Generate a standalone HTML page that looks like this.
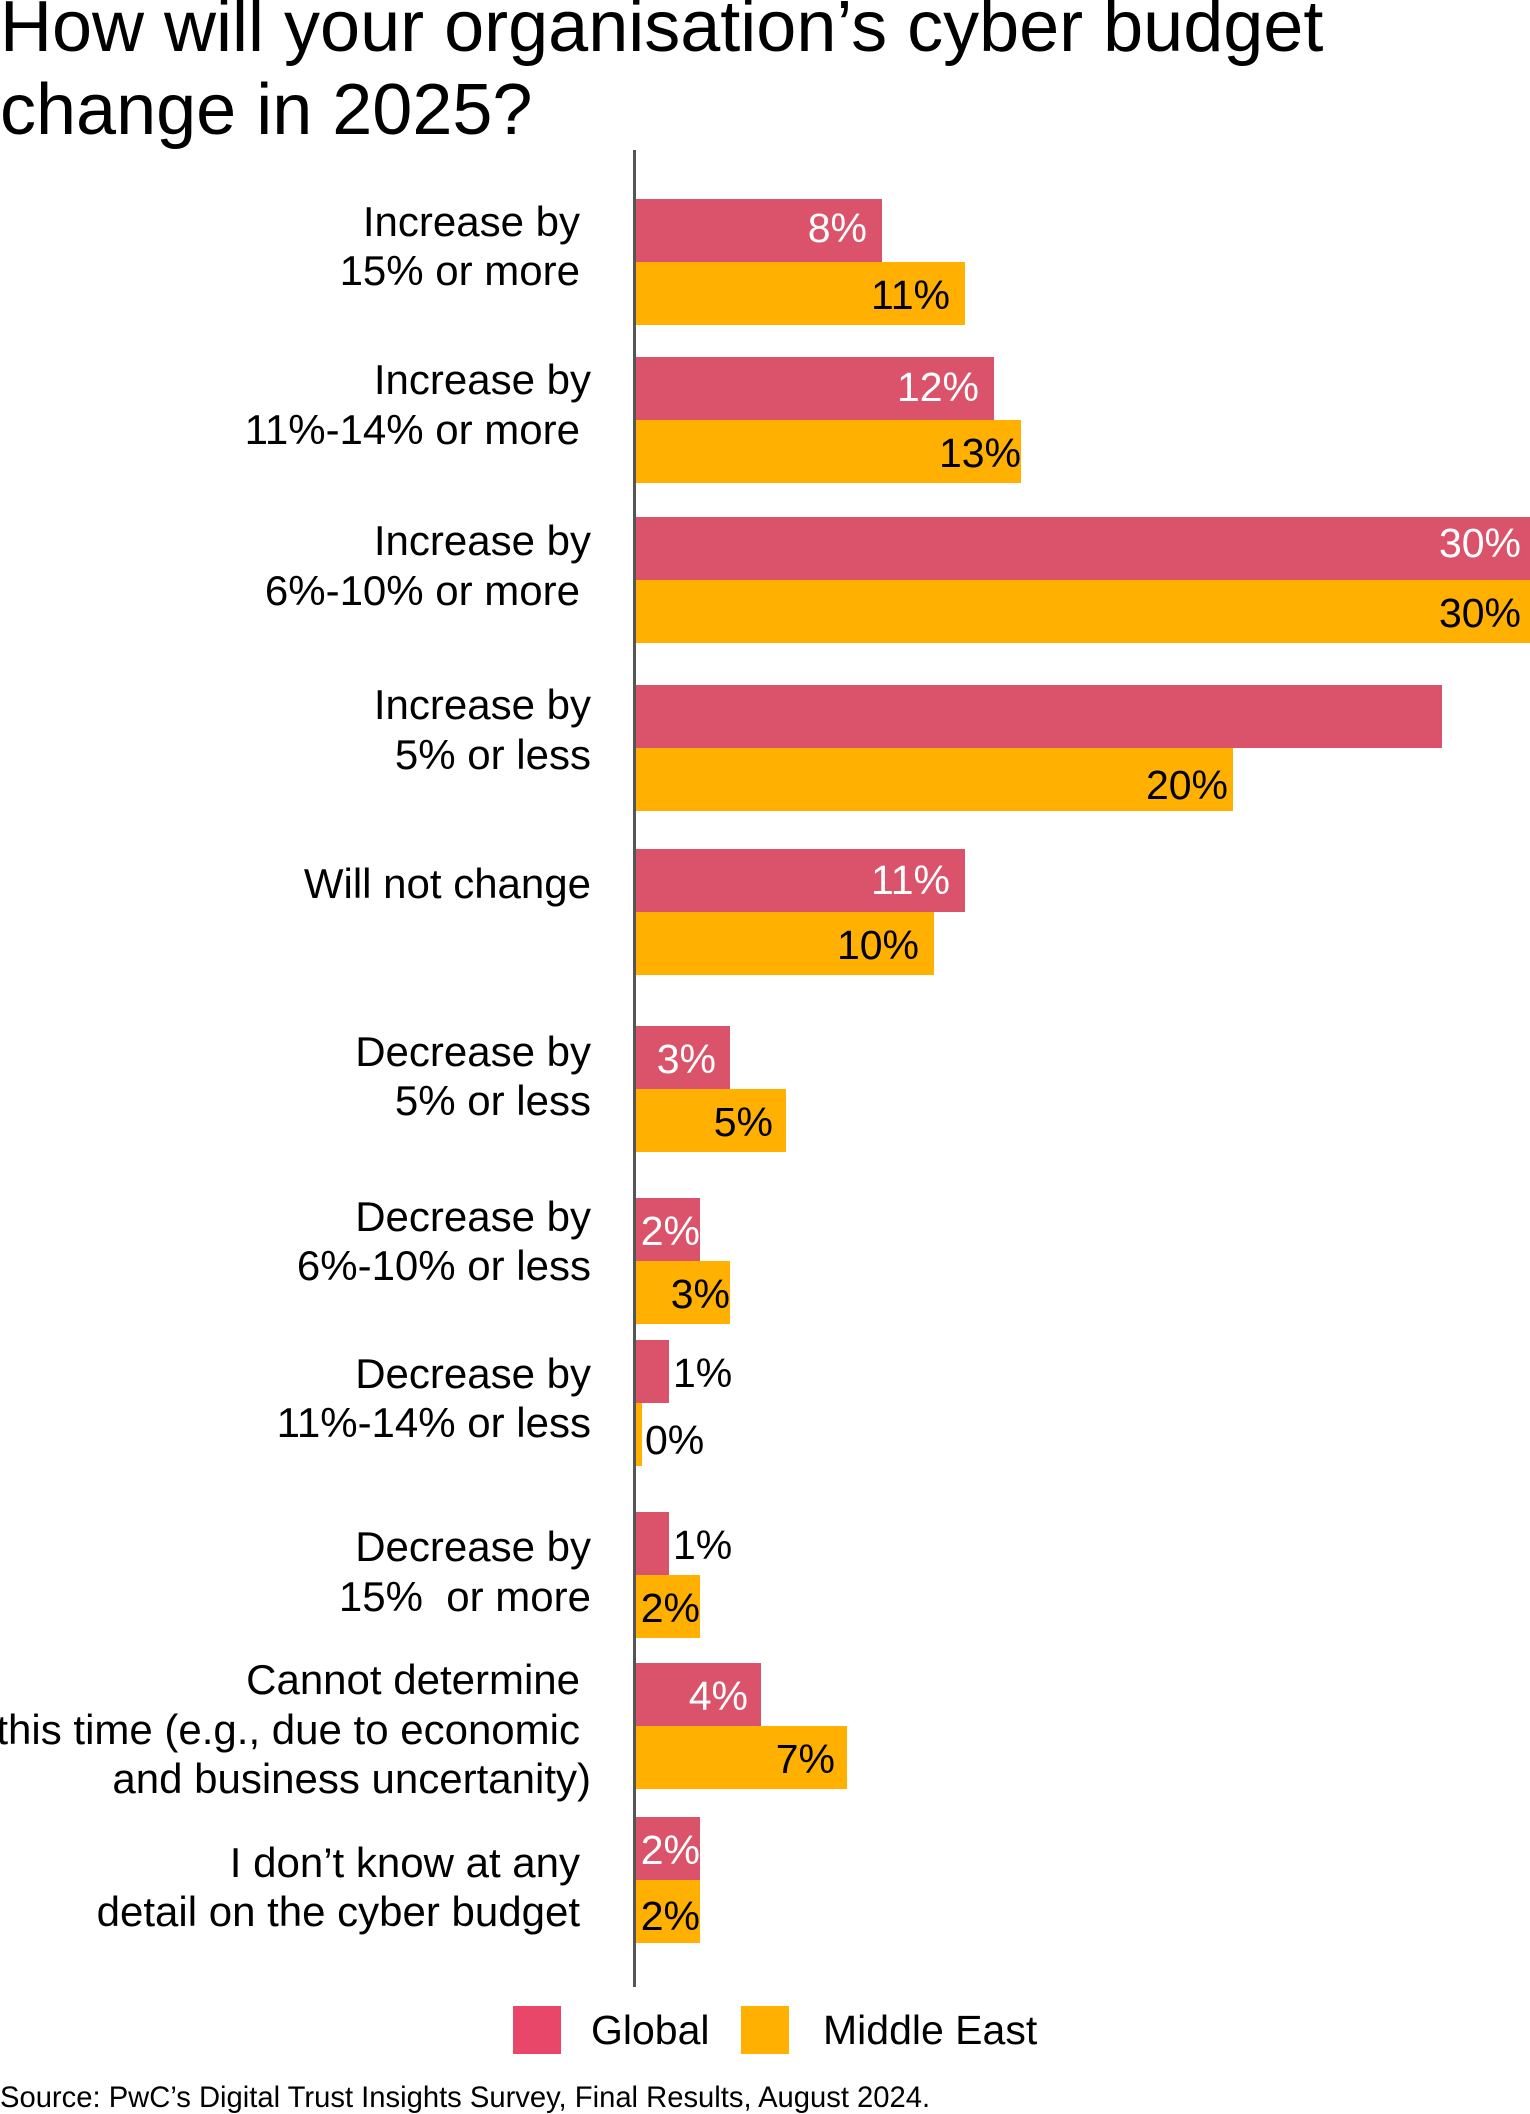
<!DOCTYPE html>
<html><head><meta charset="utf-8"><style>
body{margin:0;width:1530px;height:2106px;background:#fff;position:relative;overflow:hidden;font-family:"Liberation Sans",Arial,sans-serif;color:#000}
.t{position:absolute;left:0;font-size:72px;line-height:83px;white-space:nowrap}
.l{position:absolute;font-size:42px;line-height:50px;height:50px;white-space:nowrap;text-align:right}
.b{position:absolute;left:636px;height:63px;margin-top:4px}
.r{background:#db536a}.y{background:#ffb000}
.v{position:absolute;font-size:41px;line-height:63px;height:63px;white-space:nowrap;margin-top:4px}
.w{color:#fff}
</style></head><body>
<div class="t" style="top:-14px">How will your organisation’s cyber budget</div>
<div class="t" style="top:69px">change in 2025?</div>
<div style="position:absolute;left:633px;top:150px;width:3px;height:1837px;background:#555"></div>

<div class="l" style="right:950px;top:197px">Increase by</div>
<div class="l" style="right:950px;top:246px">15% or more</div>
<div class="l" style="right:939px;top:355px">Increase by</div>
<div class="l" style="right:950px;top:405px">11%-14% or more</div>
<div class="l" style="right:939px;top:516px">Increase by</div>
<div class="l" style="right:950px;top:566px">6%-10% or more</div>
<div class="l" style="right:939px;top:680px">Increase by</div>
<div class="l" style="right:939px;top:730px">5% or less</div>
<div class="l" style="right:939px;top:859px">Will not change</div>
<div class="l" style="right:939px;top:1027px">Decrease by</div>
<div class="l" style="right:939px;top:1076px">5% or less</div>
<div class="l" style="right:939px;top:1192px">Decrease by</div>
<div class="l" style="right:939px;top:1241px">6%-10% or less</div>
<div class="l" style="right:939px;top:1349px">Decrease by</div>
<div class="l" style="right:939px;top:1398px">11%-14% or less</div>
<div class="l" style="right:939px;top:1522px">Decrease by</div>
<div class="l" style="right:939px;top:1572px">15%&nbsp; or more</div>
<div class="l" style="right:950px;top:1655px">Cannot determine</div>
<div class="l" style="right:950px;top:1705px">this time (e.g., due to economic</div>
<div class="l" style="right:939px;top:1754px">and business uncertanity)</div>
<div class="l" style="right:950px;top:1838px">I don’t know at any</div>
<div class="l" style="right:950px;top:1887px">detail on the cyber budget</div>

<div class="b r" style="top:195px;width:246px"></div><div class="b y" style="top:258px;width:329px"></div>
<div class="b r" style="top:353px;width:358px"></div><div class="b y" style="top:416px;width:385px"></div>
<div class="b r" style="top:513px;width:894px"></div><div class="b y" style="top:576px;width:894px"></div>
<div class="b r" style="top:681px;width:806px"></div><div class="b y" style="top:744px;width:597px"></div>
<div class="b r" style="top:845px;width:329px"></div><div class="b y" style="top:908px;width:298px"></div>
<div class="b r" style="top:1022px;width:94px"></div><div class="b y" style="top:1085px;width:150px"></div>
<div class="b r" style="top:1194px;width:64px"></div><div class="b y" style="top:1257px;width:94px"></div>
<div class="b r" style="top:1336px;width:33px"></div><div class="b y" style="top:1399px;width:6px"></div>
<div class="b r" style="top:1508px;width:33px"></div><div class="b y" style="top:1571px;width:64px"></div>
<div class="b r" style="top:1659px;width:125px"></div><div class="b y" style="top:1722px;width:211px"></div>
<div class="b r" style="top:1813px;width:64px"></div><div class="b y" style="top:1876px;width:64px"></div>

<div class="v w" style="right:663px;top:193px">8%</div>
<div class="v" style="right:580px;top:260px">11%</div>
<div class="v w" style="right:551px;top:352px">12%</div>
<div class="v" style="right:509px;top:418px">13%</div>
<div class="v w" style="right:9px;top:508px">30%</div>
<div class="v" style="right:9px;top:578px">30%</div>
<div class="v" style="right:302px;top:750px">20%</div>
<div class="v w" style="right:580px;top:845px">11%</div>
<div class="v" style="right:611px;top:910px">10%</div>
<div class="v w" style="right:814px;top:1024px">3%</div>
<div class="v" style="right:757px;top:1087px">5%</div>
<div class="v w" style="right:830px;top:1196px">2%</div>
<div class="v" style="right:800px;top:1259px">3%</div>
<div class="v" style="left:673px;top:1338px">1%</div>
<div class="v" style="left:645px;top:1405px">0%</div>
<div class="v" style="left:673px;top:1510px">1%</div>
<div class="v" style="right:830px;top:1573px">2%</div>
<div class="v w" style="right:782px;top:1661px">4%</div>
<div class="v" style="right:695px;top:1724px">7%</div>
<div class="v w" style="right:830px;top:1815px">2%</div>
<div class="v" style="right:830px;top:1881px">2%</div>

<div style="position:absolute;left:513px;top:2006px;width:48px;height:48px;background:#e9476a"></div>
<div class="l" style="left:591px;top:2005px;text-align:left;font-size:41px">Global</div>
<div style="position:absolute;left:741px;top:2006px;width:48px;height:48px;background:#ffb000"></div>
<div class="l" style="left:823px;top:2005px;text-align:left;font-size:41px">Middle East</div>
<div style="position:absolute;left:0;top:2082px;font-size:29.2px;line-height:32px;white-space:nowrap">Source: PwC’s Digital Trust Insights Survey, Final Results, August 2024.</div>
</body></html>
